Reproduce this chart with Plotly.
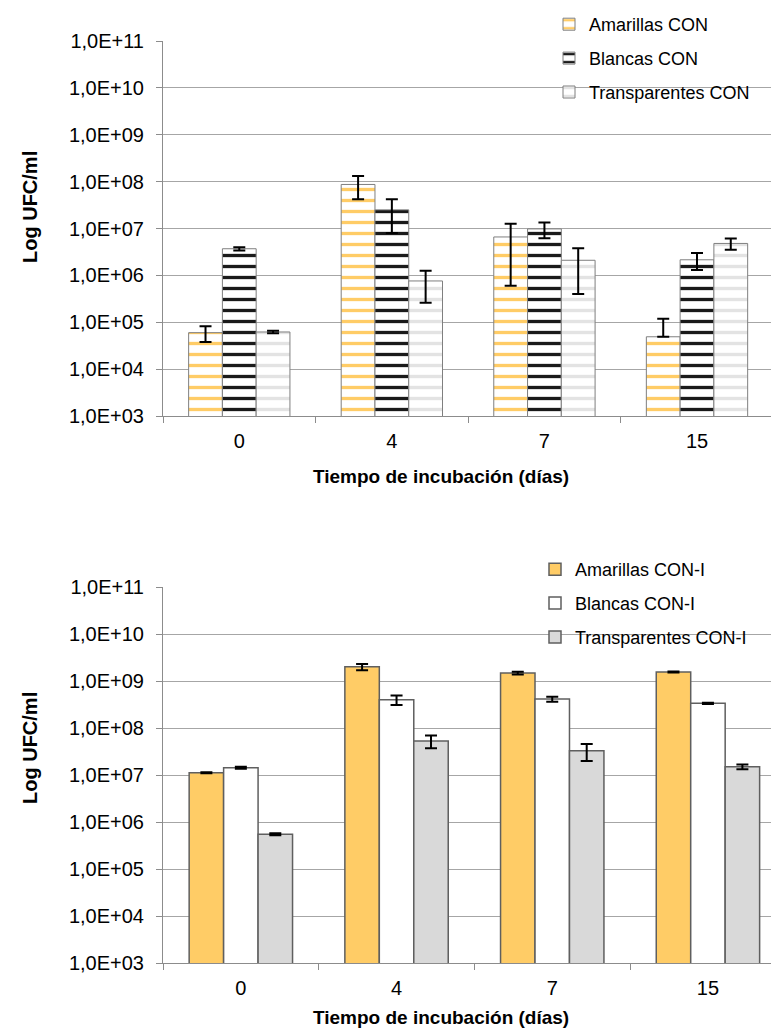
import plotly.graph_objects as go

days = ["0", "4", "7", "15"]
ytick_vals = [1e3, 1e4, 1e5, 1e6, 1e7, 1e8, 1e9, 1e10, 1e11]
ytick_text = ["1,0E+03", "1,0E+04", "1,0E+05", "1,0E+06", "1,0E+07",
              "1,0E+08", "1,0E+09", "1,0E+10", "1,0E+11"]

# Top chart (CON)
amarillas_con = [6.0e4, 8.7e7, 6.6e6, 4.9e4]
amarillas_con_err = [2.2e4, 4.5e7, 6.0e6, 7.0e4]
amarillas_con_errminus = [2.2e4, 4.5e7, 6.0e6, 0.0]
blancas_con = [3.7e6, 2.5e7, 9.8e6, 2.15e6]
blancas_con_err = [3.0e5, 1.7e7, 3.6e6, 8.5e5]
transp_con = [6.2e4, 7.6e5, 2.1e6, 4.8e6]
transp_con_err = [4.0e3, 5.0e5, 1.7e6, 1.3e6]

# Bottom chart (CON-I)
amarillas_coni = [1.12e7, 2.0e9, 1.48e9, 1.55e9]
amarillas_coni_err = [3.0e5, 3.0e8, 1.0e8, 4.0e7]
blancas_coni = [1.43e7, 4.0e8, 4.14e8, 3.35e8]
blancas_coni_err = [7.0e5, 9.0e7, 5.0e7, 1.0e7]
transp_coni = [5.5e5, 5.3e7, 3.29e7, 1.5e7]
transp_coni_err = [2.5e4, 1.6e7, 1.3e7, 1.8e6]

# page has an 8px body margin: figure is 16px smaller than the window
OFF = 8.0
W = 779.0 - 2 * OFF
H = 1036.0 - 2 * OFF
FONT = "Liberation Sans, Arial, sans-serif"


def px_x(p):
    return (p - OFF) / W


def px_y(p):
    return 1 - (p - OFF) / H


def err(arr, minus=None):
    d = dict(type="data", array=arr, visible=True, color="black", thickness=2, width=6)
    if minus is not None:
        d["symmetric"] = False
        d["arrayminus"] = minus
    return d


def stripes(color):
    return dict(shape="-", fgcolor=color, bgcolor="white", fgopacity=1,
                size=11, solidity=0.3)


fig = go.Figure()

# top traces
fig.add_trace(go.Bar(
    x=days, y=amarillas_con, name="Amarillas CON", xaxis="x", yaxis="y",
    legend="legend", legendgroup="a1",
    marker=dict(color="white", line=dict(color="#7f7f7f", width=1),
                pattern=stripes("#FFCC66")),
    error_y=err(amarillas_con_err, amarillas_con_errminus)))
fig.add_trace(go.Bar(
    x=days, y=blancas_con, name="Blancas CON", xaxis="x", yaxis="y",
    legend="legend", legendgroup="b1",
    marker=dict(color="white", line=dict(color="#7f7f7f", width=1),
                pattern=stripes("#1a1a1a")),
    error_y=err(blancas_con_err)))
fig.add_trace(go.Bar(
    x=days, y=transp_con, name="Transparentes CON", xaxis="x", yaxis="y",
    legend="legend", legendgroup="c1",
    marker=dict(color="white", line=dict(color="#7f7f7f", width=1),
                pattern=stripes("#E3E3E3")),
    error_y=err(transp_con_err)))

# bottom traces
fig.add_trace(go.Bar(
    x=days, y=amarillas_coni, name="Amarillas CON-I", xaxis="x2", yaxis="y2",
    legend="legend2", legendgroup="a2",
    marker=dict(color="#FFCC66", line=dict(color="#5f5f5f", width=1.5)),
    error_y=err(amarillas_coni_err)))
fig.add_trace(go.Bar(
    x=days, y=blancas_coni, name="Blancas CON-I", xaxis="x2", yaxis="y2",
    legend="legend2", legendgroup="b2",
    marker=dict(color="white", line=dict(color="#5f5f5f", width=1.5)),
    error_y=err(blancas_coni_err)))
fig.add_trace(go.Bar(
    x=days, y=transp_coni, name="Transparentes CON-I", xaxis="x2", yaxis="y2",
    legend="legend2", legendgroup="c2",
    marker=dict(color="#D9D9D9", line=dict(color="#5f5f5f", width=1.5)),
    error_y=err(transp_coni_err)))

xdom = [px_x(163), 1.0]


def xaxis_cfg(rng, anchor):
    return dict(domain=xdom, type="category", range=rng, anchor=anchor,
                showline=True, linecolor="#8c8c8c", linewidth=1,
                ticks="outside", tickson="boundaries", ticklen=6, tickcolor="#8c8c8c",
                tickfont=dict(family=FONT, size=20, color="black"),
                ticklabelstandoff=7, showgrid=False, zeroline=False, fixedrange=True)


def yaxis_cfg(dom, anchor):
    return dict(domain=dom, type="log", range=[3, 11], anchor=anchor,
                tickvals=ytick_vals, ticktext=ytick_text,
                showline=True, linecolor="#8c8c8c", linewidth=1,
                ticks="outside", ticklen=6, tickcolor="#8c8c8c",
                tickfont=dict(family=FONT, size=20, color="black"),
                ticklabelstandoff=8,
                showgrid=True, gridcolor="#a6a6a6", gridwidth=1.3, zeroline=False,
                fixedrange=True)


fig.update_layout(
    width=W, height=H,
    margin=dict(l=0, r=0, t=0, b=0, autoexpand=False),
    paper_bgcolor="white", plot_bgcolor="white",
    barmode="group", bargap=0.336, bargroupgap=0,
    font=dict(family=FONT, size=18, color="black"),
    showlegend=True,
    xaxis=xaxis_cfg([-0.5, 3.485], "y"),
    yaxis=yaxis_cfg([px_y(416), px_y(41)], "x"),
    xaxis2=xaxis_cfg([-0.5, 3.405], "y2"),
    yaxis2=yaxis_cfg([px_y(963), px_y(587)], "x2"),
    legend=dict(x=px_x(549), y=px_y(6), xanchor="left", yanchor="top",
                bgcolor="rgba(0,0,0,0)", tracegroupgap=7.5,
                font=dict(family=FONT, size=18, color="black")),
    legend2=dict(x=px_x(535), y=px_y(551), xanchor="left", yanchor="top",
                 bgcolor="rgba(0,0,0,0)", tracegroupgap=7.5,
                 font=dict(family=FONT, size=18, color="black")),
    annotations=[
        dict(text="<b>Log UFC/ml</b>", x=px_x(30), y=px_y(207), xref="paper", yref="paper",
             xanchor="center", yanchor="middle",
             showarrow=False, textangle=-90, font=dict(family=FONT, size=20)),
        dict(text="<b>Log UFC/ml</b>", x=px_x(30), y=px_y(748), xref="paper", yref="paper",
             xanchor="center", yanchor="middle",
             showarrow=False, textangle=-90, font=dict(family=FONT, size=20)),
        dict(text="<b>Tiempo de incubación (días)</b>", x=px_x(441), y=px_y(477),
             xref="paper", yref="paper", xanchor="center", yanchor="middle",
             showarrow=False, font=dict(family=FONT, size=19)),
        dict(text="<b>Tiempo de incubación (días)</b>", x=px_x(441), y=px_y(1017),
             xref="paper", yref="paper", xanchor="center", yanchor="middle",
             showarrow=False, font=dict(family=FONT, size=19)),
    ],
)

fig.write_html("out.html")
